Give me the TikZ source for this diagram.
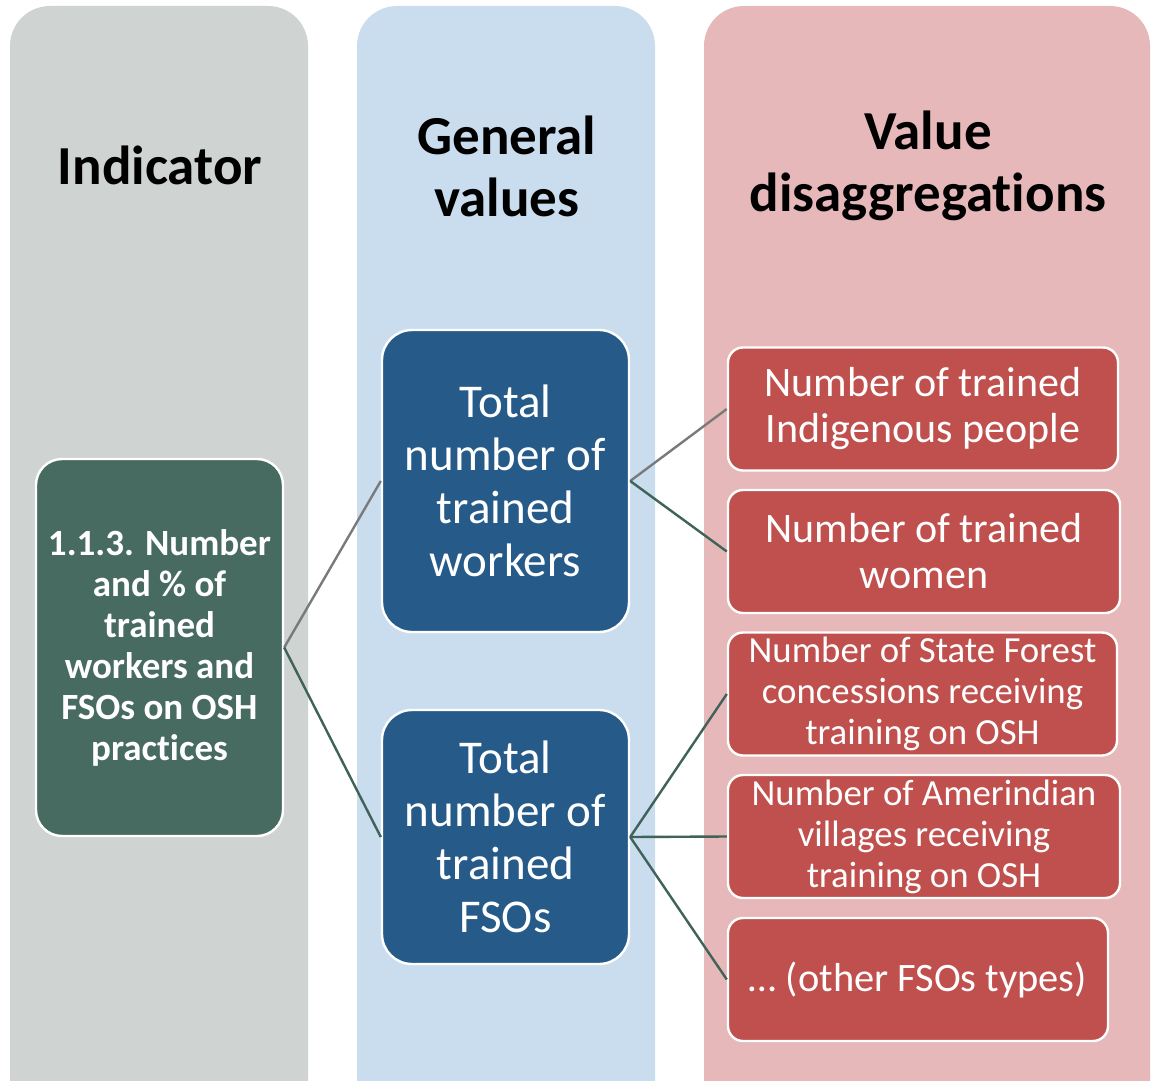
\documentclass[tikz,border=0pt]{standalone}
\usepackage{fontspec}
\setmainfont{Carlito}[Ligatures=NoCommon]
\usepackage{tikz}

\definecolor{colgray}{RGB}{207,211,210}
\definecolor{colblue}{RGB}{202,221,239}
\definecolor{colpink}{RGB}{230,184,185}
\definecolor{indgreen}{RGB}{71,107,96}
\definecolor{genblue}{RGB}{38,90,137}
\definecolor{disred}{RGB}{192,80,77}
\definecolor{lnkgray}{RGB}{122,122,122}
\definecolor{lnkgreen}{RGB}{63,98,89}

\begin{document}
\begin{tikzpicture}[x=0.5pt, y=-0.5pt,
  colbox/.style={rounded corners=20pt},
  head/.style={font=\fontsize{27.5}{31}\selectfont\bfseries, align=center},
  card/.style={draw=white, line width=1.2pt, text=white, align=center, inner sep=0pt},
  redcard/.style={card, fill=disred, rounded corners=7.5pt, minimum height=61.5pt},
  big/.style={font=\fontsize{21}{23}\selectfont},
  small/.style={font=\fontsize{18.4}{20.5}\selectfont},
  link/.style={line width=1.2pt}]

  \useasboundingbox (0,0) rectangle (1151,1081);
  \clip (0,0) rectangle (1151,1081);
  \fill[white] (0,0) rectangle (1151,1081);

  %% columns
  \fill[colgray, colbox] (10,6) rectangle (308,1130);
  \fill[colblue, colbox] (357,6) rectangle (655,1130);
  \fill[colpink, colbox] (704,6) rectangle (1150,1130);

  \node[head] (hind) at (160,165) {Indicator};
  \node[head] (hgen) at (507,166) {General\\values};
  \node[head] (hval) at (928,166) {Value\\disaggregations};

  %% indicator
  \node[card, fill=indgreen, rounded corners=13pt, minimum width=123.5pt, minimum height=188.5pt,
        font=\fontsize{18.5}{20.5}\selectfont\bfseries] (ind) at (159.5,647.5)
        {1.1.3. Number\\and \% of\\trained\\workers and\\FSOs on OSH\\practices};

  %% general values
  \node[card, fill=genblue, rounded corners=15pt, minimum width=123.5pt, minimum height=151pt,
        font=\fontsize{23.5}{26.5}\selectfont] (wrk) at (505.5,481)
        {Total\\number of\\trained\\workers};
  \node[card, fill=genblue, rounded corners=15pt, minimum width=123.5pt, minimum height=127pt,
        font=\fontsize{23.5}{26.5}\selectfont] (fso) at (505.5,837)
        {Total\\number of\\trained\\FSOs};

  %% disaggregations
  \node[redcard, big, minimum width=195pt] (indig) at (923,409) {Number of trained\\Indigenous people};
  \node[redcard, big, minimum width=196pt] (women) at (924,551.5) {Number of trained\\women};
  \node[redcard, small, minimum width=194.5pt] (state) at (922.5,694) {Number of State Forest\\concessions receiving\\training on OSH};
  \node[redcard, small, minimum width=196pt] (amer) at (924,836.5) {Number of Amerindian\\villages receiving\\training on OSH};
  \node[redcard, font=\fontsize{20.2}{23}\selectfont, minimum width=190pt] (other) at (918,979.5) {… (other FSOs types)};

  %% links
  \draw[link, lnkgray] (ind.east) -- (wrk.west);
  \draw[link, lnkgreen] (ind.east) -- (fso.west);
  \draw[link, lnkgray] (wrk.east) -- (indig.west);
  \draw[link, lnkgreen] (wrk.east) -- (women.west);
  \draw[link, lnkgreen] (fso.east) -- (state.west);
  \draw[link, lnkgreen] (fso.east) -- (amer.west);
  \draw[link, lnkgreen] (fso.east) -- (other.west);

\end{tikzpicture}
\end{document}
